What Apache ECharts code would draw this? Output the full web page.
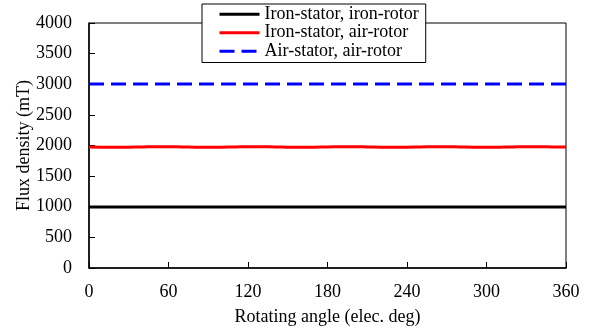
<!DOCTYPE html>
<html><head><meta charset="utf-8">
<script src="https://cdn.jsdelivr.net/npm/echarts@6/dist/echarts.min.js"></script>
<style>html,body{margin:0;padding:0;background:#fff}#c{width:595px;height:335px}</style>
</head><body><div id="c"></div>
<script>
var angles = [0,10,20,30,40,50,60,70,80,90,100,110,120,130,140,150,160,170,180,190,200,210,220,230,240,250,260,270,280,290,300,310,320,330,340,350,360];
var ironIron = [996,995,994,995,996,995,994,995,996,995,994,995,996,995,994,995,996,995,994,995,996,995,994,995,996,995,994,995,996,995,994,995,996,995,994,995,996];
var ironAir = [1976,1973,1970,1972,1976,1979,1980,1977,1973,1970,1972,1976,1979,1980,1977,1973,1970,1972,1976,1979,1980,1977,1973,1970,1972,1976,1979,1980,1977,1973,1970,1972,1976,1979,1980,1977,1976];
var airAir = [3006,3006,3006,3006,3006,3006,3006,3006,3006,3006,3006,3006,3006,3006,3006,3006,3006,3006,3006,3006,3006,3006,3006,3006,3006,3006,3006,3006,3006,3006,3006,3006,3006,3006,3006,3006,3006];
var seriesNames = ['Iron-stator, iron-rotor','Iron-stator, air-rotor','Air-stator, air-rotor'];
var xTitle = 'Rotating angle (elec. deg)';
var yTitle = 'Flux density (mT)';

function pairs(v){ return angles.map(function(a,i){return [a,v[i]];}); }
var font = 'Liberation Serif';
var chart = echarts.init(document.getElementById('c'));
chart.setOption({
  animation:false,
  backgroundColor:'#fff',
  grid:{left:89,right:29,top:23,bottom:67,show:true,borderColor:'#000',borderWidth:1,backgroundColor:'transparent'},
  legend:{
    orient:'vertical', left:202, top:4,
    itemWidth:40, itemHeight:14, itemGap:0,
    padding:[1,7,2,16],
    borderColor:'#000', borderWidth:1, backgroundColor:'#fff',
    itemStyle:{opacity:0},
    lineStyle:{width:3},
    textStyle:{fontFamily:font,fontSize:18,color:'#000',lineHeight:18.5},
    data:seriesNames
  },
  xAxis:{
    type:'value', min:0, max:360, interval:60,
    name:xTitle, nameLocation:'middle', nameGap:40, nameMoveOverlap:false,
    nameTextStyle:{fontFamily:font,fontSize:18,color:'#000'},
    axisLine:{lineStyle:{color:'#000',width:1.5}},
    axisTick:{inside:true,length:6,lineStyle:{color:'#000',width:1}},
    axisLabel:{fontFamily:font,fontSize:18,color:'#000',margin:15},
    splitLine:{show:false}
  },
  yAxis:{
    type:'value', min:0, max:4000, interval:500,
    name:yTitle, nameLocation:'middle', nameGap:56, nameMoveOverlap:false,
    nameTextStyle:{fontFamily:font,fontSize:18,color:'#000'},
    axisLine:{show:true,lineStyle:{color:'#000',width:1.5}},
    axisTick:{show:true,inside:true,length:6,lineStyle:{color:'#000',width:1}},
    axisLabel:{fontFamily:font,fontSize:18,color:'#000',margin:17,formatter:function(v){return String(v);}},
    splitLine:{show:false}
  },
  series:[
    {name:seriesNames[0],type:'line',data:pairs(ironIron),symbol:'none',smooth:true,lineStyle:{color:'#000',width:3},itemStyle:{color:'#000'}},
    {name:seriesNames[1],type:'line',data:pairs(ironAir),symbol:'none',smooth:true,lineStyle:{color:'#ff0000',width:3},itemStyle:{color:'#ff0000'}},
    {name:seriesNames[2],type:'line',data:pairs(airAir),symbol:'none',lineStyle:{color:'#0000ff',width:3,type:[15,7]},itemStyle:{color:'#0000ff'}}
  ]
});
</script></body></html>
